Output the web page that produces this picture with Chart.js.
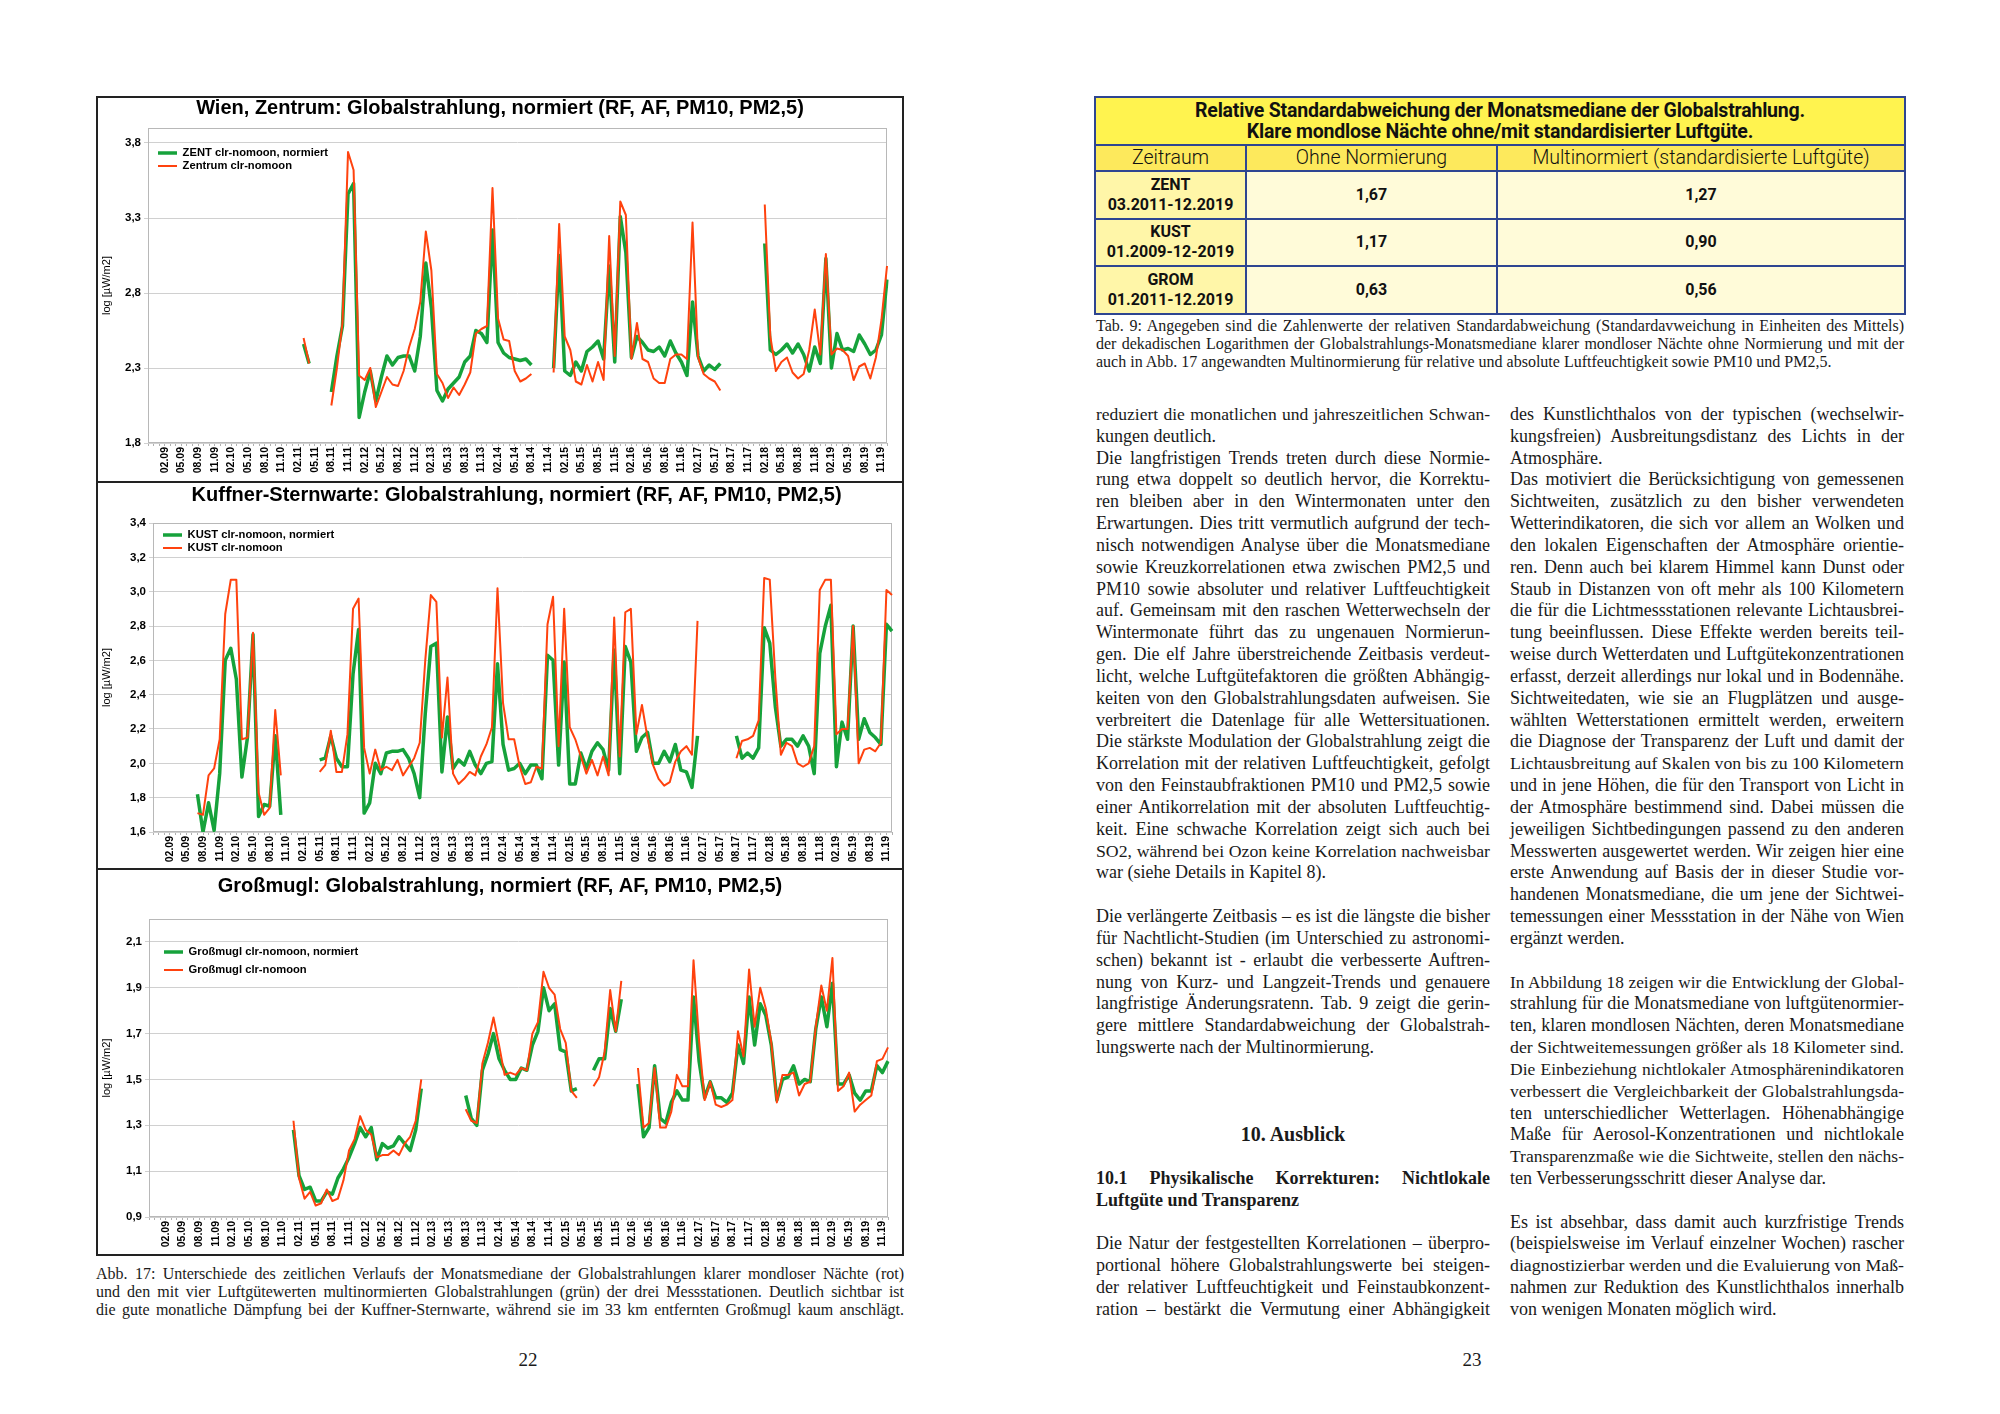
<!DOCTYPE html>
<html lang="de">
<head>
<meta charset="utf-8">
<title>Abb. 17 / Tab. 9 – Globalstrahlung</title>
<script src="https://cdn.jsdelivr.net/npm/chart.js@4.4.1/dist/chart.umd.min.js"></script>
<style>
html, body { margin: 0; padding: 0; background: #fff; }
body { width: 2000px; height: 1414px; position: relative; overflow: hidden; color: #1a1a1a; }
#rahmen { position: absolute; left: 96px; top: 96px; width: 808px; height: 1160px; border: 2px solid #222; box-sizing: border-box; }
.trenn { position: absolute; left: 96px; width: 808px; height: 2px; background: #222; }
.diagramm { position: absolute; left: 98px; width: 804px; }
#d1 { top: 98px; height: 383px; }
#d2 { top: 483px; height: 385px; }
#d3 { top: 870px; height: 384px; }

table#tab9 { position: absolute; left: 1094px; top: 96px; width: 810px; border-collapse: collapse; table-layout: fixed;
  font-family: Roboto, 'Open Sans', sans-serif; color: #111; }
#tab9 td { border: 2px solid #2e4591; text-align: center; padding: 0; }
#tab9 .kopf td { height: 46px; background: #fff34f; font-weight: 700; font-size: 19.5px; line-height: 21px; letter-spacing: -0.2px; }
#tab9 .spalten td { height: 24px; background: #fde95c; font-weight: 300; font-size: 19.5px; line-height: 22px; }
#tab9 .zeile td { height: 45.5px; background: #fffbd9; font-weight: 700; font-size: 16px; line-height: 20px; }
#tab9 .zeile td.station { background: #fff6a8; }

.text { position: absolute; font-family: 'Liberation Serif', 'DejaVu Serif', serif; }
.spalte { width: 394px; top: 404px; font-size: 18px; line-height: 21.83px; }
.cap { width: 808px; font-size: 16px; line-height: 18px; }
.j { text-align: justify; text-align-last: justify; }
.ueb1 { text-align: center; font-weight: 700; font-size: 20px; }
.ueb2 { font-weight: 700; }
.seite { position: absolute; top: 1349px; width: 60px; text-align: center; font-family: 'Liberation Serif', serif; font-size: 19px; }
</style>
</head>
<body>

<div id="rahmen"></div>
<div class="trenn" style="top:481px"></div>
<div class="trenn" style="top:868px"></div>
<div class="diagramm" id="d1"><canvas id="zent"></canvas></div>
<div class="diagramm" id="d2"><canvas id="kust"></canvas></div>
<div class="diagramm" id="d3"><canvas id="grom"></canvas></div>

<div class="text cap" style="left:96px; top:1265px">
<div class="j">Abb. 17: Unterschiede des zeitlichen Verlaufs der Monatsmediane der Globalstrahlungen klarer mondloser Nächte (rot)</div>
<div class="j">und den mit vier Luftgütewerten multinormierten Globalstrahlungen (grün) der drei Messstationen. Deutlich sichtbar ist</div>
<div class="j">die gute monatliche Dämpfung bei der Kuffner-Sternwarte, während sie im 33 km entfernten Großmugl kaum anschlägt.</div>
</div>
<div class="seite" style="left:498px">22</div>

<table id="tab9">
<colgroup><col style="width:151px"><col style="width:251px"><col style="width:408px"></colgroup>
<tr class="kopf"><td colspan="3">Relative Standardabweichung der Monatsmediane der Globalstrahlung.<br>Klare mondlose Nächte ohne/mit standardisierter Luftgüte.</td></tr>
<tr class="spalten"><td>Zeitraum</td><td>Ohne Normierung</td><td>Multinormiert (standardisierte Luftgüte)</td></tr>
<tr class="zeile"><td class="station">ZENT<br>03.2011-12.2019</td><td>1,67</td><td>1,27</td></tr>
<tr class="zeile"><td class="station">KUST<br>01.2009-12-2019</td><td>1,17</td><td>0,90</td></tr>
<tr class="zeile"><td class="station">GROM<br>01.2011-12.2019</td><td>0,63</td><td>0,56</td></tr>
</table>

<div class="text cap" style="left:1096px; top:317px">
<div class="j">Tab. 9: Angegeben sind die Zahlenwerte der relativen Standardabweichung (Standardavweichung in Einheiten des Mittels)</div>
<div class="j">der dekadischen Logarithmen der Globalstrahlungs-Monatsmediane klarer mondloser Nächte ohne Normierung und mit der</div>
<div>auch in Abb. 17 angewandten Multinormierung für relative und absolute Luftfeuchtigkeit sowie PM10 und PM2,5.</div>
</div>

<div class="text spalte" style="left:1096px">
<div class="j">reduziert die monatlichen und jahreszeitlichen Schwan-</div>
<div>kungen deutlich.</div>
<div class="j">Die langfristigen Trends treten durch diese Normie-</div>
<div class="j">rung etwa doppelt so deutlich hervor, die Korrektu-</div>
<div class="j">ren bleiben aber in den Wintermonaten unter den</div>
<div class="j">Erwartungen. Dies tritt vermutlich aufgrund der tech-</div>
<div class="j">nisch notwendigen Analyse über die Monatsmediane</div>
<div class="j">sowie Kreuzkorrelationen etwa zwischen PM2,5 und</div>
<div class="j">PM10 sowie absoluter und relativer Luftfeuchtigkeit</div>
<div class="j">auf. Gemeinsam mit den raschen Wetterwechseln der</div>
<div class="j">Wintermonate führt das zu ungenauen Normierun-</div>
<div class="j">gen. Die elf Jahre überstreichende Zeitbasis verdeut-</div>
<div class="j">licht, welche Luftgütefaktoren die größten Abhängig-</div>
<div class="j">keiten von den Globalstrahlungsdaten aufweisen. Sie</div>
<div class="j">verbreitert die Datenlage für alle Wettersituationen.</div>
<div class="j">Die stärkste Modulation der Globalstrahlung zeigt die</div>
<div class="j">Korrelation mit der relativen Luftfeuchtigkeit, gefolgt</div>
<div class="j">von den Feinstaubfraktionen PM10 und PM2,5 sowie</div>
<div class="j">einer Antikorrelation mit der absoluten Luftfeuchtig-</div>
<div class="j">keit. Eine schwache Korrelation zeigt sich auch bei</div>
<div class="j">SO2, während bei Ozon keine Korrelation nachweisbar</div>
<div>war (siehe Details in Kapitel 8).</div>
<div>&nbsp;</div>
<div class="j">Die verlängerte Zeitbasis – es ist die längste die bisher</div>
<div class="j">für Nachtlicht-Studien (im Unterschied zu astronomi-</div>
<div class="j">schen) bekannt ist - erlaubt die verbesserte Auftren-</div>
<div class="j">nung von Kurz- und Langzeit-Trends und genauere</div>
<div class="j">langfristige Änderungsratenn. Tab. 9 zeigt die gerin-</div>
<div class="j">gere mittlere Standardabweichung der Globalstrah-</div>
<div>lungswerte nach der Multinormierung.</div>
<div>&nbsp;</div>
<div>&nbsp;</div>
<div>&nbsp;</div>
<div class="ueb1">10. Ausblick</div>
<div>&nbsp;</div>
<div class="j ueb2">10.1 Physikalische Korrekturen: Nichtlokale</div>
<div class="ueb2">Luftgüte und Transparenz</div>
<div>&nbsp;</div>
<div class="j">Die Natur der festgestellten Korrelationen – überpro-</div>
<div class="j">portional höhere Globalstrahlungswerte bei steigen-</div>
<div class="j">der relativer Luftfeuchtigkeit und Feinstaubkonzent-</div>
<div class="j">ration – bestärkt die Vermutung einer Abhängigkeit</div>
</div>

<div class="text spalte" style="left:1510px">
<div class="j">des Kunstlichthalos von der typischen (wechselwir-</div>
<div class="j">kungsfreien) Ausbreitungsdistanz des Lichts in der</div>
<div>Atmosphäre.</div>
<div class="j">Das motiviert die Berücksichtigung von gemessenen</div>
<div class="j">Sichtweiten, zusätzlich zu den bisher verwendeten</div>
<div class="j">Wetterindikatoren, die sich vor allem an Wolken und</div>
<div class="j">den lokalen Eigenschaften der Atmosphäre orientie-</div>
<div class="j">ren. Denn auch bei klarem Himmel kann Dunst oder</div>
<div class="j">Staub in Distanzen von oft mehr als 100 Kilometern</div>
<div class="j">die für die Lichtmessstationen relevante Lichtausbrei-</div>
<div class="j">tung beeinflussen. Diese Effekte werden bereits teil-</div>
<div class="j">weise durch Wetterdaten und Luftgütekonzentrationen</div>
<div class="j">erfasst, derzeit allerdings nur lokal und in Bodennähe.</div>
<div class="j">Sichtweitedaten, wie sie an Flugplätzen und ausge-</div>
<div class="j">wählten Wetterstationen ermittelt werden, erweitern</div>
<div class="j">die Diagnose der Transparenz der Luft und damit der</div>
<div class="j">Lichtausbreitung auf Skalen von bis zu 100 Kilometern</div>
<div class="j">und in jene Höhen, die für den Transport von Licht in</div>
<div class="j">der Atmosphäre bestimmend sind. Dabei müssen die</div>
<div class="j">jeweiligen Sichtbedingungen passend zu den anderen</div>
<div class="j">Messwerten ausgewertet werden. Wir zeigen hier eine</div>
<div class="j">erste Anwendung auf Basis der in dieser Studie vor-</div>
<div class="j">handenen Monatsmediane, die um jene der Sichtwei-</div>
<div class="j">temessungen einer Messstation in der Nähe von Wien</div>
<div>ergänzt werden.</div>
<div>&nbsp;</div>
<div class="j">In Abbildung 18 zeigen wir die Entwicklung der Global-</div>
<div class="j">strahlung für die Monatsmediane von luftgütenormier-</div>
<div class="j">ten, klaren mondlosen Nächten, deren Monatsmediane</div>
<div class="j">der Sichtweitemessungen größer als 18 Kilometer sind.</div>
<div class="j">Die Einbeziehung nichtlokaler Atmosphärenindikatoren</div>
<div class="j">verbessert die Vergleichbarkeit der Globalstrahlungsda-</div>
<div class="j">ten unterschiedlicher Wetterlagen. Höhenabhängige</div>
<div class="j">Maße für Aerosol-Konzentrationen und nichtlokale</div>
<div class="j">Transparenzmaße wie die Sichtweite, stellen den nächs-</div>
<div>ten Verbesserungsschritt dieser Analyse dar.</div>
<div>&nbsp;</div>
<div class="j">Es ist absehbar, dass damit auch kurzfristige Trends</div>
<div class="j">(beispielsweise im Verlauf einzelner Wochen) rascher</div>
<div class="j">diagnostizierbar werden und die Evaluierung von Maß-</div>
<div class="j">nahmen zur Reduktion des Kunstlichthalos innerhalb</div>
<div>von wenigen Monaten möglich wird.</div>
</div>
<div class="seite" style="left:1442px">23</div>

<script>
const _ = null;

// Monate (Kategorien) 11.2008 - 12.2019
const monate = [
    '11.08','12.08',
    '01.09','02.09','03.09','04.09','05.09','06.09','07.09','08.09','09.09','10.09','11.09','12.09',
    '01.10','02.10','03.10','04.10','05.10','06.10','07.10','08.10','09.10','10.10','11.10','12.10',
    '01.11','02.11','03.11','04.11','05.11','06.11','07.11','08.11','09.11','10.11','11.11','12.11',
    '01.12','02.12','03.12','04.12','05.12','06.12','07.12','08.12','09.12','10.12','11.12','12.12',
    '01.13','02.13','03.13','04.13','05.13','06.13','07.13','08.13','09.13','10.13','11.13','12.13',
    '01.14','02.14','03.14','04.14','05.14','06.14','07.14','08.14','09.14','10.14','11.14','12.14',
    '01.15','02.15','03.15','04.15','05.15','06.15','07.15','08.15','09.15','10.15','11.15','12.15',
    '01.16','02.16','03.16','04.16','05.16','06.16','07.16','08.16','09.16','10.16','11.16','12.16',
    '01.17','02.17','03.17','04.17','05.17','06.17','07.17','08.17','09.17','10.17','11.17','12.17',
    '01.18','02.18','03.18','04.18','05.18','06.18','07.18','08.18','09.18','10.18','11.18','12.18',
    '01.19','02.19','03.19','04.19','05.19','06.19','07.19','08.19','09.19','10.19','11.19','12.19'
];

// beschriftete Monate der x-Achse
const xBeschriftung = [
    '02.09','05.09','08.09','11.09','02.10','05.10','08.10','11.10','02.11','05.11','08.11','11.11',
    '02.12','05.12','08.12','11.12','02.13','05.13','08.13','11.13','02.14','05.14','08.14','11.14',
    '02.15','05.15','08.15','11.15','02.16','05.16','08.16','11.16','02.17','05.17','08.17','11.17',
    '02.18','05.18','08.18','11.18','02.19','05.19','08.19','11.19'
];

// Wien, Zentrum
const zentNorm = [
    _,_,
    _,_,_,_,_,_,_,_,_,_,_,_,
    _,_,_,_,_,_,_,_,_,_,_,_,
    _,_,2.46,2.33,_,_,_,2.14,2.38,2.58,3.46,3.53,
    1.97,2.14,2.28,2.08,2.24,2.38,2.32,2.37,2.38,2.38,2.28,2.51,
    3.00,2.70,2.15,2.08,2.16,2.20,2.24,2.34,2.38,2.55,2.53,2.47,
    3.22,2.47,2.40,2.37,2.36,2.35,2.36,2.32,_,_,_,2.30,
    3.05,2.28,2.25,2.34,2.28,2.41,2.44,2.48,2.36,2.98,2.34,3.31,
    3.07,2.37,2.51,2.47,2.42,2.41,2.44,2.38,2.48,2.40,2.34,2.25,
    2.74,2.38,2.28,2.32,2.29,2.33,_,_,_,_,_,_,
    _,3.13,2.42,2.39,2.42,2.46,2.40,2.46,2.39,2.28,2.44,2.33,
    3.03,2.30,2.53,2.42,2.43,2.41,2.52,2.46,2.39,2.42,2.52,2.89
];
const zentRoh = [
    _,_,
    _,_,_,_,_,_,_,_,_,_,_,_,
    _,_,_,_,_,_,_,_,_,_,_,_,
    _,_,2.50,2.33,_,_,_,2.05,2.30,2.60,3.74,3.62,
    2.25,2.22,2.30,2.04,2.14,2.24,2.19,2.18,2.28,2.44,2.56,2.74,
    3.21,2.95,2.26,2.20,2.10,2.17,2.12,2.19,2.27,2.53,2.56,2.58,
    3.50,2.63,2.49,2.48,2.28,2.21,2.23,2.26,_,_,_,2.27,
    3.26,2.51,2.42,2.21,2.19,2.32,2.21,2.34,2.22,3.18,2.38,3.41,
    3.32,2.36,2.60,2.36,2.34,2.23,2.20,2.20,2.36,2.39,2.39,2.36,
    3.27,2.37,2.26,2.23,2.21,2.15,_,_,_,_,_,_,
    _,3.39,2.51,2.28,2.34,2.37,2.27,2.23,2.26,2.42,2.69,2.39,
    3.06,2.39,2.43,2.42,2.38,2.22,2.31,2.33,2.23,2.37,2.62,2.98
];
const zentTicks = [1.8, 2.3, 2.8, 3.3, 3.8];

// Kuffner-Sternwarte
const kustNorm = [
    _,_,
    _,_,_,_,_,_,1.82,1.60,1.77,1.61,1.94,2.60,
    2.67,2.49,1.92,2.15,2.75,1.69,1.76,1.75,2.16,1.70,_,_,
    _,_,_,_,2.02,2.03,2.16,2.03,1.98,1.98,2.52,2.78,
    1.71,1.77,2.00,1.94,2.06,2.07,2.07,2.08,2.03,1.94,1.80,2.29,
    2.68,2.70,1.95,2.27,1.97,2.02,1.99,2.07,1.99,1.94,2.00,2.01,
    2.58,2.11,1.96,1.97,2.00,1.94,1.99,1.99,1.91,2.63,2.60,1.99,
    2.59,1.88,1.88,2.06,1.97,2.07,2.12,2.08,1.96,2.66,1.94,2.68,
    2.59,2.07,2.15,2.18,2.00,2.00,2.07,2.01,2.11,1.96,1.95,1.86,
    2.16,_,_,_,_,_,_,2.16,2.03,2.06,2.03,2.09,
    2.79,2.70,2.33,2.10,2.14,2.14,2.10,2.16,2.10,1.94,2.64,2.80,
    2.92,1.98,2.24,2.14,2.80,2.14,2.26,2.18,2.15,2.11,2.81,2.77
];
const kustRoh = [
    _,_,
    _,_,_,_,_,_,1.71,1.70,1.93,1.97,2.14,2.87,
    3.07,3.07,2.14,2.15,2.76,1.83,1.70,1.74,2.31,1.93,_,_,
    _,_,_,_,1.95,1.99,2.19,1.95,1.95,2.17,2.90,2.96,
    2.09,1.94,2.08,1.96,1.98,1.96,2.02,1.93,1.98,2.03,2.12,2.60,
    2.98,2.94,2.15,2.50,1.94,1.88,1.91,1.95,1.93,2.04,2.11,2.21,
    3.02,2.35,2.14,2.14,1.98,1.88,1.89,1.98,1.97,2.81,2.97,2.10,
    2.90,2.21,2.14,2.04,1.94,2.02,1.93,2.04,1.93,2.85,2.04,2.88,
    2.90,2.17,2.34,2.15,1.99,1.91,1.87,1.89,2.01,2.07,2.10,2.05,
    2.83,_,_,_,_,_,_,2.03,2.13,2.14,2.16,2.25,
    3.08,3.07,2.50,2.05,2.12,2.10,2.00,1.98,2.00,2.10,3.01,3.07,
    3.07,2.17,2.20,2.20,2.80,2.00,2.08,2.09,2.07,2.12,3.01,2.98
];
const kustTicks = [1.6, 1.8, 2.0, 2.2, 2.4, 2.6, 2.8, 3.0, 3.2, 3.4];

// Großmugl
const gromNorm = [
    _,_,
    _,_,_,_,_,_,_,_,_,_,_,_,
    _,_,_,_,_,_,_,_,_,_,_,_,
    1.28,1.08,1.02,1.03,0.97,0.97,1.01,1.00,1.07,1.11,1.16,1.22,
    1.29,1.25,1.29,1.15,1.22,1.20,1.21,1.25,1.22,1.19,1.28,1.46,
    _,_,_,_,_,_,_,1.43,1.33,1.30,1.54,1.61,
    1.70,1.59,1.54,1.50,1.50,1.55,1.54,1.65,1.71,1.90,1.80,1.83,
    1.63,1.62,1.45,1.46,_,_,1.54,1.59,1.59,1.81,1.71,1.85,
    _,_,1.48,1.25,1.29,1.56,1.33,1.31,1.40,1.45,1.41,1.41,
    1.86,1.58,1.42,1.49,1.42,1.42,1.40,1.44,1.65,1.57,1.86,1.65,
    1.83,1.78,1.65,1.41,1.50,1.51,1.56,1.48,1.50,1.49,1.72,1.86,
    1.73,1.92,1.48,1.48,1.52,1.44,1.41,1.45,1.45,1.56,1.53,1.58
];
const gromRoh = [
    _,_,
    _,_,_,_,_,_,_,_,_,_,_,_,
    _,_,_,_,_,_,_,_,_,_,_,_,
    1.32,1.07,0.98,1.01,0.95,0.96,1.02,0.97,0.98,1.06,1.19,1.24,
    1.34,1.28,1.26,1.16,1.17,1.17,1.19,1.17,1.22,1.25,1.32,1.50,
    _,_,_,_,_,_,_,1.37,1.32,1.31,1.57,1.66,
    1.77,1.65,1.52,1.53,1.52,1.55,1.54,1.70,1.75,1.97,1.90,1.87,
    1.72,1.66,1.45,1.42,_,_,1.47,1.51,1.62,1.89,1.71,1.93,
    _,_,1.55,1.29,1.31,1.55,1.29,1.29,1.36,1.52,1.47,1.47,
    2.02,1.67,1.41,1.49,1.39,1.38,1.39,1.41,1.71,1.60,1.98,1.73,
    1.90,1.81,1.66,1.40,1.52,1.52,1.53,1.43,1.48,1.49,1.73,1.91,
    1.80,2.03,1.45,1.47,1.53,1.36,1.39,1.41,1.43,1.58,1.59,1.64
];
const gromTicks = [0.9, 1.1, 1.3, 1.5, 1.7, 1.9, 2.1];

const gruen = '#16a23b';
const rot = '#ff420e';

Chart.defaults.font.family = "'Liberation Sans', Arial, sans-serif";
Chart.defaults.color = '#000';

// grauer Rahmen um die Zeichenfläche
const diagrammRahmen = {
    id: 'diagrammRahmen',
    beforeDatasetsDraw(chart) {
        const {ctx, chartArea} = chart;
        ctx.save();
        ctx.strokeStyle = '#b8b8b8';
        ctx.lineWidth = 1;
        ctx.strokeRect(Math.round(chartArea.left) + 0.5, Math.round(chartArea.top) + 0.5,
            Math.round(chartArea.width) - 1, Math.round(chartArea.height) - 1);
        ctx.restore();
    }
};

// Legende in die Zeichenfläche setzen, Titel seitlich verschieben
const lageKorrektur = {
    id: 'lageKorrektur',
    afterLayout(chart, args, opts) {
        const a = chart.chartArea;
        const l = chart.legend;
        if (l) {
            const b = l.right - l.left, h = l.bottom - l.top;
            l.left = a.left + opts.dx;
            l.right = l.left + b;
            l.top = a.top + opts.dy;
            l.bottom = l.top + h;
        }
        const t = chart.titleBlock;
        if (t) {
            t.left += opts.titelDx;
            t.right += opts.titelDx;
        }
    }
};

const erstelleDiagramm = (canvasId, titel, labelNorm, labelRoh, datenNorm, datenRoh, yMin, yMax, yTicks, g) => {
    const ctx = document.getElementById(canvasId).getContext('2d');
    return new Chart(ctx, {
        type: 'line',
        data: {
            labels: monate,
            datasets: [{
                label: labelNorm,
                data: datenNorm,
                borderColor: gruen,
                backgroundColor: gruen,
                pointBorderColor: gruen,
                borderWidth: 3.5,
                pointBorderWidth: 3.5,
                pointRadius: 0,
                pointHoverRadius: 0,
                borderJoinStyle: 'round',
                order: 1
            }, {
                label: labelRoh,
                data: datenRoh,
                borderColor: rot,
                backgroundColor: rot,
                pointBorderColor: rot,
                borderWidth: 2,
                pointBorderWidth: 2,
                pointRadius: 0,
                pointHoverRadius: 0,
                borderJoinStyle: 'round',
                order: 0
            }]
        },
        options: {
            responsive: true,
            maintainAspectRatio: false,
            animation: false,
            events: [],
            layout: { padding: { left: 0, right: g.rechts, top: 0, bottom: 0 } },
            plugins: {
                title: {
                    display: true,
                    text: titel,
                    color: '#000',
                    font: { size: 20, weight: 'bold', lineHeight: 0.8 },
                    padding: { top: g.titelOben, bottom: g.titelUnten }
                },
                legend: {
                    position: 'chartArea',
                    align: 'start',
                    labels: {
                        usePointStyle: true,
                        pointStyle: 'line',
                        pointStyleWidth: 19,
                        padding: g.legendeAbstand,
                        color: '#000',
                        font: { size: 11.2, weight: 'bold' },
                        sort: (a, b) => a.datasetIndex - b.datasetIndex
                    }
                },
                tooltip: { enabled: false },
                lageKorrektur: { dx: 8.2, dy: g.legendeY, titelDx: g.titelDx }
            },
            scales: {
                x: {
                    offset: false,
                    border: { display: false },
                    grid: { drawOnChartArea: false, drawTicks: true, tickLength: 3, color: '#b0b0b0' },
                    ticks: {
                        autoSkip: false,
                        minRotation: 90,
                        maxRotation: 90,
                        padding: 1,
                        color: '#000',
                        font: { size: 10.5, weight: 'bold' },
                        callback: function (v) {
                            const l = this.getLabelForValue(v);
                            return xBeschriftung.includes(l) ? l : '';
                        }
                    },
                    afterFit: s => { s.height = g.xHoehe; s.paddingLeft = 0; s.paddingRight = 0; }
                },
                y: {
                    min: yMin,
                    max: yMax,
                    border: { display: false },
                    grid: { color: '#d0d0d0', tickLength: 4 },
                    afterBuildTicks: s => { s.ticks = yTicks.map(v => ({ value: v })); },
                    afterFit: s => { s.width = g.yBreite; s.paddingTop = 0; s.paddingBottom = 0; },
                    ticks: {
                        padding: 3,
                        color: '#000',
                        font: { size: 11.5, weight: 'bold' },
                        callback: v => v.toFixed(1).replace('.', ',')
                    },
                    title: {
                        display: true,
                        text: 'log [µW/m2]',
                        color: '#000',
                        font: { size: 11 },
                        padding: { top: 2.4, bottom: 0 }
                    }
                }
            }
        },
        plugins: [diagrammRahmen, lageKorrektur]
    });
};

erstelleDiagramm('zent', 'Wien, Zentrum: Globalstrahlung, normiert (RF, AF, PM10, PM2,5)',
    'ZENT clr-nomoon, normiert', 'Zentrum clr-nomoon', zentNorm, zentRoh, 1.8, 3.9, zentTicks,
    { rechts: 15, yBreite: 50, xHoehe: 38, titelOben: 2.5, titelUnten: 11.5, titelDx: 7.5, legendeAbstand: 1.8, legendeY: 17.6 });

erstelleDiagramm('kust', 'Kuffner-Sternwarte: Globalstrahlung, normiert (RF, AF, PM10, PM2,5)',
    'KUST clr-nomoon, normiert', 'KUST clr-nomoon', kustNorm, kustRoh, 1.6, 3.4, kustTicks,
    { rechts: 10, yBreite: 55, xHoehe: 36, titelOben: 4.5, titelUnten: 19.5, titelDx: 21.6, legendeAbstand: 1.8, legendeY: 4.6 });

erstelleDiagramm('grom', 'Großmugl: Globalstrahlung, normiert (RF, AF, PM10, PM2,5)',
    'Großmugl clr-nomoon, normiert', 'Großmugl clr-nomoon', gromNorm, gromRoh, 0.9, 2.2, gromTicks,
    { rechts: 14, yBreite: 51, xHoehe: 37, titelOben: 8.5, titelUnten: 24.5, titelDx: 7, legendeAbstand: 6.8, legendeY: 20.6 });

// Blocksatzzeilen: zu lange Zeilen etwas verkleinern, damit jede Zeile einzeilig bleibt
const anpassen = () => {
    document.querySelectorAll('.j').forEach(z => {
        const lh = parseFloat(getComputedStyle(z).lineHeight);
        let fs = parseFloat(getComputedStyle(z).fontSize);
        while (z.offsetHeight > lh * 1.5 && fs > 9) {
            fs -= 0.25;
            z.style.fontSize = fs + 'px';
        }
    });
};
anpassen();
</script>
</body>
</html>
